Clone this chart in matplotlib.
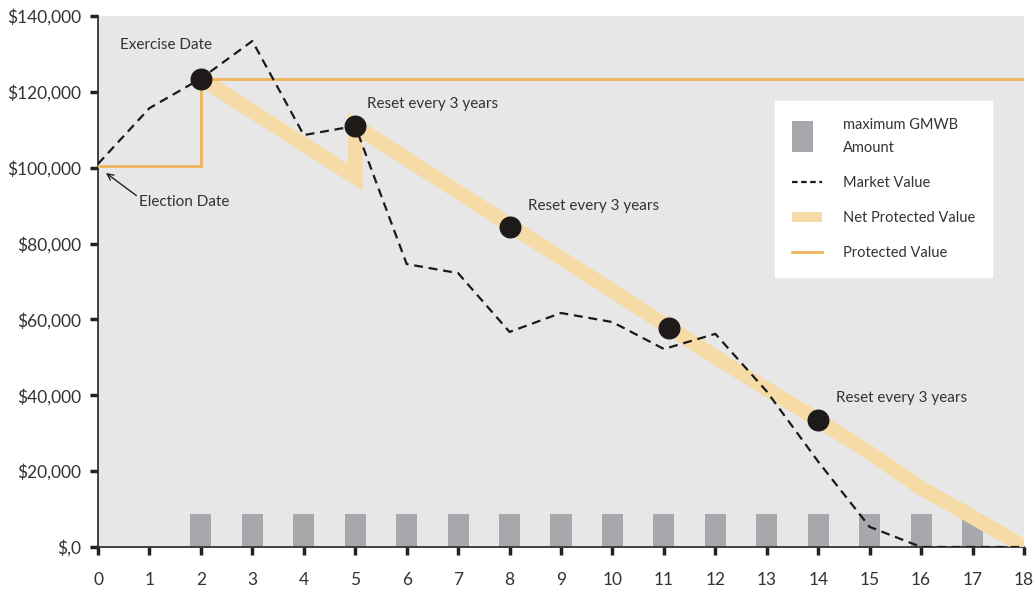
import matplotlib
matplotlib.use("Agg")
import matplotlib.pyplot as plt
from matplotlib.patches import Rectangle, Patch
from matplotlib.lines import Line2D
from matplotlib.legend_handler import HandlerPatch

plt.rcParams['font.family'] = ['Lato', 'DejaVu Sans']

# ---- data ----
years = list(range(0, 19))
market_value = [101000, 115700, 123500, 133400, 108600, 111000, 74600, 72200, 56700,
                61700, 59300, 52200, 56200, 41000, 22500, 5300, 0, 0, 0]

gmwb_years = list(range(2, 18))
gmwb_amount = [8680] * len(gmwb_years)

net_years = [2, 3, 4, 5, 5, 6, 7, 8, 9, 10, 11, 12, 13, 14, 15, 16, 17, 18]
net_values = [123500, 114800, 106100, 97500, 111000, 102300, 93600, 84900, 76200,
              67500, 58800, 50100, 41600, 33500, 24800, 15500, 7900, 0]

prot_years = [0, 2, 2, 18]
prot_values = [100500, 100500, 123500, 123500]

reset_x = [2, 5, 8, 11.1, 14]
reset_y = [123500, 111000, 84400, 57800, 33500]

yticks = [0, 20000, 40000, 60000, 80000, 100000, 120000, 140000]
ytick_labels = ['$,0', '$20,000', '$40,000', '$60,000', '$80,000', '$100,000', '$120,000', '$140,000']

# ---- style ----
bg = '#E6E7E6'
bar_c = '#A7A8AB'
net_c = '#F7DBA7'
prot_c = '#F0B55A'
txt_c = '#333333'

fig = plt.figure(figsize=(10.36, 5.90), dpi=100)
ax = fig.add_axes([0.0946, 0.0729, 0.8938, 0.9])
ax.set_facecolor(bg)

ax.bar(gmwb_years, gmwb_amount, width=0.41, color=bar_c, zorder=2)
ax.plot(net_years, net_values, color=net_c, lw=10.5, solid_capstyle='butt',
        solid_joinstyle='miter', zorder=3)
ax.plot(prot_years, prot_values, color=prot_c, lw=2.0, zorder=4)
ax.plot(years, market_value, color='#1a1a1a', lw=1.6, dashes=(4, 2.6), zorder=5)
ax.scatter(reset_x, reset_y, s=220, color='#1f1a1a', zorder=6)

ax.set_xlim(0, 18)
ax.set_ylim(0, 140000)
ax.set_xticks(years)
ax.set_xticklabels([str(y) for y in years])
ax.set_yticks(yticks)
ax.set_yticklabels(ytick_labels)
for s in ['top', 'right']:
    ax.spines[s].set_visible(False)
for s in ['left', 'bottom']:
    ax.spines[s].set_color('#333333')
    ax.spines[s].set_linewidth(1.3)
ax.tick_params(axis='both', direction='out', length=6, width=2.5, color='#222222',
               labelsize=12.5, labelcolor=txt_c, pad=6)
ax.tick_params(axis='x', pad=12)

# annotations
fs = 11
ax.text(0.43, 132300, 'Exercise Date', fontsize=fs, color=txt_c, va='center')
ax.text(5.23, 116800, 'Reset every 3 years', fontsize=fs, color=txt_c, va='center')
ax.text(8.36, 89900, 'Reset every 3 years', fontsize=fs, color=txt_c, va='center')
ax.text(14.35, 39300, 'Reset every 3 years', fontsize=fs, color=txt_c, va='center')
ax.annotate('Election Date', xy=(0.155, 98600), xytext=(0.8, 91000), fontsize=fs,
            color=txt_c, va='center',
            arrowprops=dict(arrowstyle='->', color='#222222', lw=1.0,
                            shrinkA=0, shrinkB=0,
                            relpos=(0, 0.8)))


class TallPatch(HandlerPatch):
    def create_artists(self, legend, orig_handle, xdescent, ydescent, width, height,
                       fontsize, trans):
        w = width * 0.7
        h = height * 3.0
        p = Rectangle((-xdescent, -ydescent + height / 2 - h / 2), w, h,
                      facecolor=orig_handle.get_facecolor(), edgecolor='none',
                      transform=trans)
        return [p]


h_bar = Patch(facecolor=bar_c, edgecolor='none')
h_mkt = Line2D([], [], color='#1a1a1a', lw=1.6, dashes=(2.5, 1.6))
h_net = Patch(facecolor=net_c, edgecolor='none')
h_prot = Line2D([], [], color=prot_c, lw=2.0)
leg = ax.legend([h_bar, h_mkt, h_net, h_prot],
                ['maximum GMWB\nAmount', 'Market Value', 'Net Protected Value', 'Protected Value'],
                handler_map={h_bar: TallPatch()},
                loc='upper left', bbox_to_anchor=(0.731, 0.84), frameon=True,
                fancybox=False, framealpha=1.0, edgecolor='white', facecolor='white',
                fontsize=10.5, labelspacing=1.45, handlelength=2.1, handletextpad=1.45,
                borderpad=1.15, borderaxespad=0)
for t in leg.get_texts():
    t.set_color(txt_c)
    t.set_linespacing(1.8)

fig.savefig('out.png', dpi=100)
